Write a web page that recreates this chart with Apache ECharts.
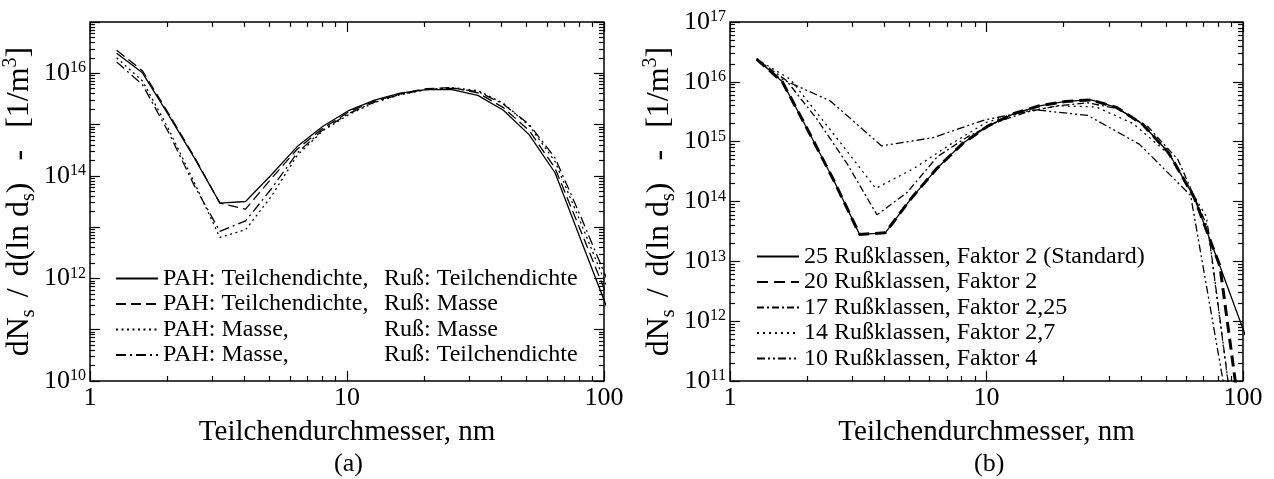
<!DOCTYPE html>
<html><head><meta charset="utf-8">
<script src="https://cdn.jsdelivr.net/npm/echarts@6/dist/echarts.min.js"></script>
<style>html,body{margin:0;padding:0;background:#fff}#c{width:1274px;height:479px}</style>
</head><body><div id="c"></div>
<script>
// ---------- data ----------
const xTitle = 'Teilchendurchmesser, nm';
const xTickLabels = [1, 10, 100];
const yLeftTickExp = [10, 12, 14, 16];
const yRightTickExp = [11, 12, 13, 14, 15, 16, 17];

// (a) diameters [nm] and dN/d(ln d) [1/m^3]
const dLeft = [1.27,1.6,2.02,2.54,3.2,4.03,5.08,6.4,8.06,10.2,12.8,16.1,20.3,25.6,32.3,40.6,51.2,64.5,81.3,102.4];
const aTdTd = [2.45e16,1.02e16,1.55e15,2.29e14,2.95e13,3.16e13,1.05e14,3.72e14,9.3e14,1.9e15,3.0e15,4.1e15,4.8e15,4.8e15,3.7e15,1.9e15,6.3e14,1.15e14,5.6e12,2.8e11];
const aTdM  = [2.82e16,1.12e16,1.66e15,2.4e14,2.95e13,2.24e13,8.9e13,3.3e14,8.5e14,1.78e15,2.88e15,3.98e15,5.0e15,5.25e15,4.17e15,2.14e15,7.6e14,1.41e14,8.3e12,4.8e11];
const aMM   = [2.0e16,7.1e15,8.3e14,7.6e13,6.3e12,8.9e12,4.0e13,2.5e14,7.6e14,1.58e15,2.7e15,3.8e15,4.8e15,5.25e15,4.6e15,2.6e15,9.5e14,1.9e14,1.2e13,7.1e11];
const aMTd  = [1.66e16,6.0e15,7.1e14,6.6e13,8.3e12,1.32e13,5.6e13,2.8e14,7.9e14,1.66e15,2.75e15,3.9e15,4.8e15,5.1e15,4.4e15,2.5e15,1.0e15,2.24e14,1.58e13,1.0e12];
const namesA = ['PAH: Teilchendichte, Ruß: Teilchendichte','PAH: Teilchendichte, Ruß: Masse','PAH: Masse, Ruß: Masse','PAH: Masse, Ruß: Teilchendichte'];

// (b)
const d25 = [1.27,1.6,2.02,2.54,3.2,4.03,5.08,6.4,8.06,10.2,12.8,16.1,20.3,25.6,32.3,40.6,51.2,64.5,81.3,102.4];
const b25 = [2.4e16,1.0e16,1.51e15,2.24e14,2.82e13,3.0e13,1.12e14,3.55e14,9.3e14,1.86e15,2.95e15,3.98e15,4.7e15,5.0e15,3.7e15,1.95e15,6.6e14,1.17e14,8.3e12,5.6e11];
const d20 = [1.27,1.6,2.02,2.54,3.2,4.03,5.08,6.4,8.06,10.2,12.8,16.1,20.3,25.6,32.3,40.6,51.2,64.5,81.3,102.4];
const b20 = [2.4e16,1.0e16,1.51e15,2.24e14,2.82e13,3.0e13,1.12e14,3.55e14,9.3e14,1.86e15,2.95e15,3.98e15,4.7e15,5.0e15,3.7e15,1.95e15,6.6e14,1.17e14,8.3e12,5.0e9];
const d17 = [1.27,1.66,2.18,2.86,3.74,4.9,6.43,8.42,11.0,14.5,18.9,24.8,32.5,42.6,55.8,73.1,95.8];
const b17 = [2.4e16,1.05e16,2.4e15,4.3e14,6.0e13,1.41e14,5.6e14,1.2e15,2.14e15,3.16e15,3.98e15,4.47e15,3.55e15,1.78e15,5.0e14,3.55e13,5.0e9];
const d14 = [1.27,1.72,2.5,3.7,5.2,7.2,10.0,13.9,19.3,26.8,37.3,51.8,72.0,93.6];
const b14 = [2.4e16,1.1e16,1.45e15,1.66e14,3.55e14,8.9e14,2.1e15,3.16e15,3.98e15,3.8e15,2.0e15,6.0e14,5.6e13,1.0e10];
const d10 = [1.27,1.55,2.46,3.9,6.2,9.8,15.6,24.8,39.4,62.5,99];
const b10 = [2.4e16,1.17e16,4.8e15,8.5e14,1.17e15,2.3e15,3.4e15,2.75e15,9.1e14,1.26e14,1.6e9];
const namesB = ['25 Rußklassen, Faktor 2 (Standard)','20 Rußklassen, Faktor 2','17 Rußklassen, Faktor 2,25','14 Rußklassen, Faktor 2,7','10 Rußklassen, Faktor 4'];

// ---------- helpers ----------
const FONT = 'Liberation Serif';
const zip = (xs, ys) => xs.map((x, i) => [x, ys[i]]);
const xMajor = xTickLabels.slice();
const xMinor = [];
[1, 10].forEach(b => { for (let k = 2; k <= 9; k++) xMinor.push(k * b); });
function decades(lo, hi) { const a = []; for (let e = lo; e <= hi; e++) a.push(Math.pow(10, e)); return a; }
function minorDec(lo, hi) { const a = []; for (let e = lo; e < hi; e++) for (let k = 2; k <= 9; k++) a.push(k * Math.pow(10, e)); return a; }

const expRich = {
  b: { fontFamily: FONT, fontSize: 26, color: '#000', lineHeight: 26, verticalAlign: 'bottom', padding: [5, 0, 0, 0] },
  e: { fontFamily: FONT, fontSize: 16, color: '#000', lineHeight: 16, verticalAlign: 'top' }
};
const yName = '{t|dN}{s|s}{g| }{t|/}{g| }{t|d(ln d}{s|s}{t|)}{h| }{t|-}{h| }{t|[1/m}{p|3}{t|]}';
const yNameRich = {
  t: { fontFamily: FONT, fontSize: 32, color: '#000', lineHeight: 38 },
  s: { fontFamily: FONT, fontSize: 20, color: '#000', lineHeight: 20, verticalAlign: 'bottom' },
  p: { fontFamily: FONT, fontSize: 20, color: '#000', lineHeight: 20, verticalAlign: 'top' },
  g: { width: 12 }, h: { width: 22 }
};

function xAx(g, pos, vals, len, main) {
  return {
    type: 'log', logBase: 10, gridIndex: g, min: 1, max: 100, position: pos,
    axisLine: { show: false }, splitLine: { show: false },
    axisTick: { show: true, inside: true, length: len, customValues: vals, lineStyle: { color: '#000', width: 1.2 } },
    axisLabel: main ? { show: true, customValues: xTickLabels, formatter: v => String(Math.round(v)), color: '#000', fontFamily: FONT, fontSize: 26, margin: 4, showMinLabel: true, showMaxLabel: true } : { show: false },
    name: main ? xTitle : '', nameLocation: 'middle', nameGap: 37,
    nameTextStyle: { fontFamily: FONT, fontSize: 29, color: '#000' }
  };
}
function yAx(g, pos, lo, hi, vals, len, labelExp) {
  const main = !!labelExp;
  return {
    type: 'log', logBase: 10, gridIndex: g, min: Math.pow(10, lo), max: Math.pow(10, hi), position: pos,
    axisLine: { show: false }, splitLine: { show: false },
    axisTick: { show: true, inside: true, length: len, customValues: vals, lineStyle: { color: '#000', width: 1.2 } },
    axisLabel: main ? {
      show: true, customValues: labelExp.map(e => Math.pow(10, e)), margin: 4,
      formatter: v => '{b|10}{e|' + Math.round(Math.log10(v)) + '}', rich: expRich,
      showMinLabel: true, showMaxLabel: true
    } : { show: false },
    name: main ? yName : '', nameLocation: 'middle', nameGap: 51,
    nameTextStyle: { rich: yNameRich }
  };
}
function ser(name, xs, ys, xi, yi, type, width) {
  return {
    name, type: 'line', xAxisIndex: xi, yAxisIndex: yi, data: zip(xs, ys),
    symbol: 'none', showSymbol: false, smooth: false, clip: true, animation: false,
    lineStyle: { color: '#000', width: width || 1.3, type: type || 'solid' },
    itemStyle: { color: '#000' }
  };
}

const xAxes = [
  xAx(0, 'bottom', xMajor, 10, true), xAx(0, 'bottom', xMinor, 5, false),
  xAx(0, 'top', xMajor, 10, false), xAx(0, 'top', xMinor, 5, false),
  xAx(1, 'bottom', xMajor, 10, true), xAx(1, 'bottom', xMinor, 5, false),
  xAx(1, 'top', xMajor, 10, false), xAx(1, 'top', xMinor, 5, false)
];
const yAxes = [
  yAx(0, 'left', 10, 17, decades(10, 17), 10, yLeftTickExp), yAx(0, 'left', 10, 17, minorDec(10, 17), 5, null),
  yAx(0, 'right', 10, 17, decades(10, 17), 10, null), yAx(0, 'right', 10, 17, minorDec(10, 17), 5, null),
  yAx(1, 'left', 11, 17, decades(11, 17), 10, yRightTickExp), yAx(1, 'left', 11, 17, minorDec(11, 17), 5, null),
  yAx(1, 'right', 11, 17, decades(11, 17), 10, null), yAx(1, 'right', 11, 17, minorDec(11, 17), 5, null)
];

const series = [
  ser(namesA[0], dLeft, aTdTd, 0, 0, 'solid'),
  ser(namesA[1], dLeft, aTdM, 0, 0, [10, 5]),
  ser(namesA[2], dLeft, aMM, 0, 0, [2, 3.5]),
  ser(namesA[3], dLeft, aMTd, 0, 0, [10, 4, 2, 4]),
  ser(namesB[0], d25, b25, 4, 4, 'solid', 1.3),
  ser(namesB[1], d20, b20, 4, 4, [11, 6], 3),
  ser(namesB[2], d17, b17, 4, 4, [7, 3, 2, 3]),
  ser(namesB[3], d14, b14, 4, 4, [2, 4]),
  ser(namesB[4], d10, b10, 4, 4, [8, 3, 2, 3, 2, 3])
];

const legTxt = { fontFamily: FONT, fontSize: 24, color: '#000', lineHeight: 25 };
const legCommon = {
  orient: 'vertical', itemWidth: 42, itemHeight: 1, itemGap: 0.5, selectedMode: false,
  itemStyle: { opacity: 0 }
};
const option = {
  backgroundColor: '#fff',
  animation: false,
  textStyle: { fontFamily: FONT },
  grid: [
    { left: 90, top: 22, width: 514, height: 359, show: true, borderColor: '#000', borderWidth: 1.5, backgroundColor: 'transparent', containLabel: false },
    { left: 730, top: 22, width: 513, height: 359, show: true, borderColor: '#000', borderWidth: 1.5, backgroundColor: 'transparent', containLabel: false }
  ],
  xAxis: xAxes,
  yAxis: yAxes,
  legend: [
    Object.assign({}, legCommon, {
      data: namesA, left: 110, top: 261,
      formatter: n => { const i = n.indexOf(' Ruß'); return '{a|' + n.slice(0, i) + '}{b|' + n.slice(i + 1) + '}'; },
      textStyle: Object.assign({}, legTxt, { rich: {
        a: Object.assign({}, legTxt, { width: 221 }),
        b: Object.assign({}, legTxt)
      } })
    }),
    Object.assign({}, legCommon, {
      data: namesB, left: 751, top: 239,
      formatter: n => '{a|' + n + '}',
      textStyle: Object.assign({}, legTxt, { rich: { a: Object.assign({}, legTxt) } })
    })
  ],
  graphic: [
    { type: 'text', left: 334, top: 451, style: { text: '(a)', fontFamily: FONT, fontSize: 26, fill: '#000' } },
    { type: 'text', left: 974, top: 451, style: { text: '(b)', fontFamily: FONT, fontSize: 26, fill: '#000' } }
  ],
  series: series
};
const chart = echarts.init(document.getElementById('c'), null, { renderer: 'canvas', width: 1274, height: 479 });
chart.setOption(option);
</script>
</body></html>
